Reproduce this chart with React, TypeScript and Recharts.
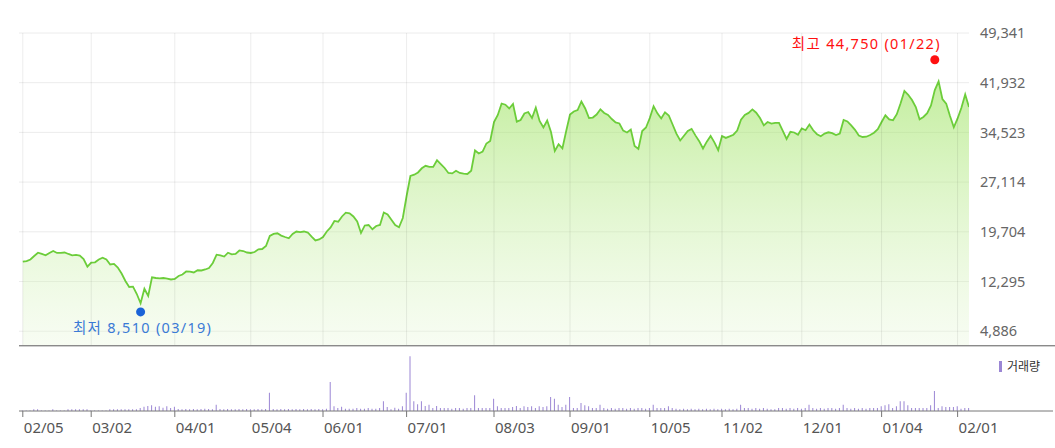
import React from 'react';
import { AreaChart, Area, XAxis, YAxis, CartesianGrid, ReferenceDot, ReferenceLine, BarChart, Bar } from 'recharts';

// Trading days (month, days) from 2020-02-05 to 2021-02-04
const tradingDays: [string, number[]][] = [
  ['02', [5, 6, 7, 10, 11, 12, 13, 14, 17, 18, 19, 20, 21, 24, 25, 26, 27, 28]],
  ['03', [2, 3, 4, 5, 6, 9, 10, 11, 12, 13, 16, 17, 18, 19, 20, 23, 24, 25, 26, 27, 30, 31]],
  ['04', [1, 2, 3, 6, 7, 8, 9, 10, 13, 14, 16, 17, 20, 21, 22, 23, 24, 27, 28, 29]],
  ['05', [4, 6, 7, 8, 11, 12, 13, 14, 15, 18, 19, 20, 21, 22, 25, 26, 27, 28, 29]],
  ['06', [1, 2, 3, 4, 5, 8, 9, 10, 11, 12, 15, 16, 17, 18, 19, 22, 23, 24, 25, 26, 29, 30]],
  ['07', [1, 2, 3, 6, 7, 8, 9, 10, 13, 14, 15, 16, 17, 20, 21, 22, 23, 24, 27, 28, 29, 30, 31]],
  ['08', [3, 4, 5, 6, 7, 10, 11, 12, 13, 14, 18, 19, 20, 21, 24, 25, 26, 27, 28, 31]],
  ['09', [1, 2, 3, 4, 7, 8, 9, 10, 11, 14, 15, 16, 17, 18, 21, 22, 23, 24, 25, 28, 29]],
  ['10', [5, 6, 7, 8, 12, 13, 14, 15, 16, 19, 20, 21, 22, 23, 26, 27, 28, 29, 30]],
  ['11', [2, 3, 4, 5, 6, 9, 10, 11, 12, 13, 16, 17, 18, 19, 20, 23, 24, 25, 26, 27, 30]],
  ['12', [1, 2, 3, 4, 7, 8, 9, 10, 11, 14, 15, 16, 17, 18, 21, 22, 23, 24, 28, 29, 30]],
  ['01', [4, 5, 6, 7, 8, 11, 12, 13, 14, 15, 18, 19, 20, 21, 22, 25, 26, 27, 28, 29]],
  ['02', [1, 2, 3, 4]],
];

const closes: number[] = [
  15250, 15350, 15580, 16100, 16590, 16400, 16200, 16550, 16840, 16550,
  16550, 16620, 16400, 16200, 16250, 16170, 15650, 14500, 15100, 15160,
  15580, 15850, 15580, 14830, 14910, 14380, 13490, 12370, 11480, 11520,
  10430, 9050, 11220, 10140, 12920, 12820, 12770, 12820, 12740, 12600,
  12670, 13120, 13340, 13790, 13770, 13640, 13970, 13940, 14090, 14310,
  15060, 16290, 16190, 16020, 16590, 16350, 16400, 16920, 16840, 16620,
  16550, 16690, 17100, 17140, 17590, 19080, 19380, 19480, 19140, 18930,
  18740, 19380, 19750, 19650, 19750, 19600, 18980, 18410, 18560, 18930,
  19750, 20350, 21320, 21210, 21990, 22550, 22460, 21990, 21240, 19530,
  20650, 20720, 20080, 20570, 20720, 22580, 22290, 21510, 20720, 20380,
  21760, 25040, 28020, 28220, 28550, 29170, 29540, 29370, 29370, 30380,
  29810, 29220, 28470, 28410, 28810, 28470, 28370, 28320, 28810, 31830,
  31380, 31650, 32870, 33240, 36070, 37120, 38830, 38650, 38090, 38760,
  36120, 36370, 37340, 37560, 36670, 38210, 36220, 35250, 36300, 34580,
  31750, 32760, 32150, 34730, 37190, 37640, 37860, 39130, 38090, 36670,
  36740, 37190, 37970, 37420, 37120, 36520, 36000, 35850, 34780, 34510,
  34940, 32500, 32050, 34730, 35250, 36670, 38430, 37370, 36600, 37520,
  37040, 35700, 34340, 33320, 34030, 34730, 35050, 34080, 33210, 32120,
  33140, 34000, 33030, 31860, 33990, 33700, 33930, 34180, 34790, 36430,
  37130, 37430, 37950, 37460, 36660, 35570, 36070, 35840, 35950, 35940,
  34760, 33540, 34610, 34510, 34180, 35130, 34850, 35700, 34840, 34260,
  33940, 34340, 34540, 34420, 34140, 34360, 36370, 36160, 35570, 34910,
  34050, 33840, 33880, 34140, 34480, 34990, 36070, 37070, 36450, 36330,
  37240, 38880, 40700, 40130, 39350, 38310, 36480, 36820, 37390, 38550,
  40840, 42140, 39500, 38820, 36970, 35280, 36600, 38190, 40190, 38310,
];

const volumes: number[] = [
  100, 100, 100, 340, 340, 100, 100, 100, 340, 100,
  100, 100, 340, 340, 340, 340, 340, 340, 100, 100,
  100, 100, 100, 340, 340, 340, 340, 340, 340, 340,
  340, 600, 870, 1000, 1130, 870, 930, 670, 930, 600,
  870, 400, 340, 400, 340, 400, 340, 400, 470, 400,
  340, 1270, 400, 340, 400, 340, 340, 400, 340, 400,
  340, 340, 400, 340, 400, 3670, 400, 340, 400, 340,
  400, 340, 400, 340, 400, 340, 400, 340, 400, 340,
  470, 5800, 930, 600, 870, 470, 470, 470, 600, 470,
  470, 600, 470, 470, 600, 1930, 800, 340, 670, 470,
  930, 3670, 10930, 1930, 1330, 1930, 1000, 1270, 600, 1000,
  600, 600, 600, 470, 600, 600, 470, 600, 600, 3130,
  600, 600, 600, 600, 2470, 930, 600, 600, 600, 800,
  1000, 600, 930, 800, 930, 600, 930, 800, 930, 2800,
  2470, 1270, 800, 1270, 2800, 600, 600, 1600, 1130, 930,
  600, 600, 1270, 600, 470, 600, 470, 600, 600, 470,
  600, 470, 600, 600, 470, 600, 1270, 600, 600, 600,
  930, 600, 470, 340, 470, 340, 470, 340, 470, 340,
  470, 340, 470, 340, 470, 340, 470, 340, 470, 1270,
  600, 600, 470, 600, 470, 600, 470, 340, 340, 600,
  600, 470, 600, 470, 600, 470, 600, 1270, 600, 470,
  600, 470, 600, 600, 470, 600, 1270, 600, 470, 600,
  470, 600, 470, 600, 600, 600, 930, 1130, 1330, 600,
  930, 1930, 1930, 1130, 600, 600, 600, 600, 600, 1130,
  4000, 600, 930, 800, 800, 800, 930, 470, 600, 600,
];

const tickLabels: string[] = ['02/05', '03/02', '04/01', '05/04', '06/01', '07/01', '08/03', '09/01', '10/05', '11/02', '12/01', '01/04', '02/01'];
const priceTicks: number[] = [4886, 12295, 19704, 27114, 34523, 41932, 49341];
const priceAxisMin = 2681;
const volumeAxisMax = 11000;

const highValue = 44750;
const highDate = '01/22';
const lowValue = 8510;
const lowDate = '03/19';

const dates: string[] = tradingDays.flatMap(([m, ds]) => ds.map((d) => `${m}/${String(d).padStart(2, '0')}`));
const rows = dates.map((date, i) => ({ i, date, close: closes[i], volume: volumes[i] }));
const tickIdx = tickLabels.map((l) => dates.indexOf(l));
const lastIdx = dates.length - 1;
const fmt = (v: number) => v.toLocaleString('en-US');

const FONT = "'Noto Sans', 'Noto Sans CJK KR', sans-serif";

const PriceTick = (p: any) => (
  <text x={p.x} y={p.y} dy="0.355em" textAnchor="start" fill="#666" fontSize={14.5} fontFamily={FONT}>
    {fmt(p.payload.value)}
  </text>
);

const DateTick = (p: any) => (
  <text x={p.x + 1} y={p.y} dy="0.71em" textAnchor="start" fill="#555" fontSize={15} fontFamily={FONT}>
    {dates[p.payload.value]}
  </text>
);

const HighMarker = (p: any) => (
  <g>
    <circle cx={p.cx} cy={p.cy - 4} r={4.5} fill="#ff1010" />
    <text x={p.cx + 6} y={p.cy - 20} dy="0.355em" textAnchor="end" fill="#ff1010" fontSize={14.5} letterSpacing={1.3} fontFamily={FONT}>
      {`최고 ${fmt(highValue)} (${highDate})`}
    </text>
  </g>
);

const LowMarker = (p: any) => (
  <g>
    <circle cx={p.cx} cy={p.cy + 5} r={4.5} fill="#1a63d8" />
    <text x={p.cx + 2} y={p.cy + 20.5} dy="0.355em" textAnchor="middle" fill="#3a7ad6" fontSize={14.5} letterSpacing={1.3} fontFamily={FONT}>
      {`최저 ${fmt(lowValue)} (${lowDate})`}
    </text>
  </g>
);

export default function App() {
  return (
    <div style={{ position: 'absolute', left: 0, top: 0, width: 1055, height: 448, background: '#fff', overflow: 'hidden' }}>
      <div style={{ position: 'absolute', left: 0, top: 0 }}>
        <AreaChart width={1055} height={346} data={rows} margin={{ top: 33, right: 0, bottom: 0, left: 19 }}>
          <defs>
            <linearGradient id="priceFill" x1="0" y1="0" x2="0" y2="1">
              <stop offset="0%" stopColor="#93e050" stopOpacity={0.55} />
              <stop offset="100%" stopColor="#e6f7d6" stopOpacity={0.3} />
            </linearGradient>
          </defs>
          <CartesianGrid stroke="#ececec" strokeWidth={1} vertical={false} />
          <XAxis type="number" dataKey="i" domain={[-1, lastIdx]} ticks={tickIdx} hide allowDataOverflow />
          <YAxis
            orientation="right"
            domain={[priceAxisMin, priceTicks[priceTicks.length - 1]]}
            ticks={priceTicks}
            width={86}
            axisLine={false}
            tickLine={false}
            tickSize={0}
            tickMargin={11}
            tick={PriceTick}
            allowDataOverflow
          />
          <Area
            type="linear"
            dataKey="close"
            stroke="#6ccd3a"
            strokeWidth={1.8}
            fill="url(#priceFill)"
            fillOpacity={1}
            dot={false}
            activeDot={false}
            isAnimationActive={false}
          />
          {tickIdx.map((i) => (
            <ReferenceLine key={i} x={i} stroke="#000" strokeOpacity={0.075} strokeWidth={1} />
          ))}
          <ReferenceDot x={dates.indexOf(highDate)} y={highValue} shape={HighMarker} />
          <ReferenceDot x={dates.indexOf(lowDate)} y={lowValue} shape={LowMarker} />
        </AreaChart>
      </div>
      <div
        style={{
          position: 'absolute',
          left: 19,
          top: 345,
          width: 1036,
          height: 0,
          borderTop: '1px solid #8a8a8a',
          borderBottom: '1px solid #cfcfcf',
        }}
      />
      <div style={{ position: 'absolute', left: 0, top: 346 }}>
        <BarChart width={1055} height={102} data={rows} margin={{ top: 10, right: 2, bottom: 0, left: 19 }}>
          <XAxis
            type="number"
            dataKey="i"
            domain={[-1, 271.1]}
            ticks={tickIdx}
            height={37}
            tickSize={6}
            tickMargin={5}
            stroke="#777"
            tick={DateTick}
            allowDataOverflow
          />
          <YAxis hide domain={[0, volumeAxisMax]} />
          <Bar dataKey="volume" fill="#9b86d4" barSize={1} isAnimationActive={false} />
        </BarChart>
      </div>
      <div
        style={{
          position: 'absolute',
          left: 999,
          top: 358,
          height: 16,
          display: 'flex',
          alignItems: 'center',
          fontFamily: FONT,
          fontSize: 12,
          color: '#333',
          whiteSpace: 'nowrap',
        }}
      >
        <span style={{ display: 'inline-block', width: 3, height: 11, background: '#9b86d4', marginRight: 5 }} />
        <span>거래량</span>
      </div>
    </div>
  );
}
